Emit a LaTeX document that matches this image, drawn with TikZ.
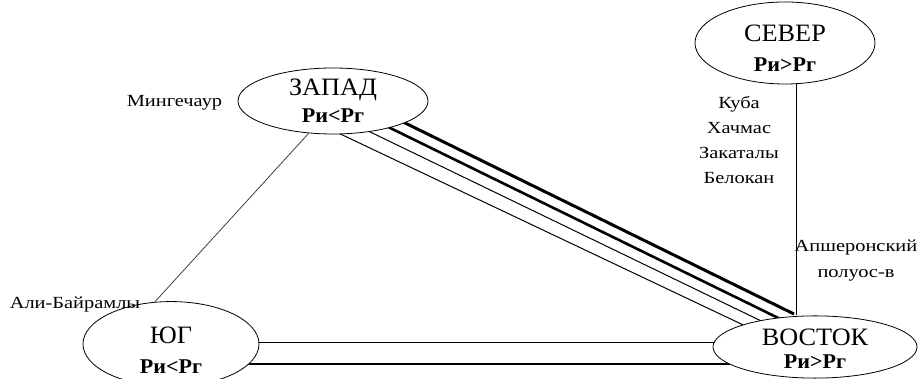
\documentclass[tikz,border=0pt]{standalone}
\usepackage{fontspec}
\setmainfont{Liberation Serif}
\newfontfamily\labfont[FakeStretch=1.2]{Liberation Serif}
\newfontfamily\regfont[FakeStretch=1.05]{Liberation Serif}
\usetikzlibrary{shapes.geometric,calc,backgrounds}
\newcommand{\regtext}[3]{{\regfont\fontsize{25}{#1}\selectfont\begin{tabular}[b]{@{}c@{}}#2\\\fontsize{21}{#1}\selectfont\bfseries #3\end{tabular}}}
\tikzset{
  region/.style={ellipse, draw, line width=0.8pt, fill=white, inner sep=0pt, text depth=0pt},
  lab/.style={font=\labfont\fontsize{17}{24.7}\selectfont, inner sep=0pt, anchor=base},
  thinlink/.style={line width=1pt},
  thicklink/.style={line width=3pt},
  hlink/.style={line width=1.1pt}
}
\begin{document}
\begin{tikzpicture}[x=1pt,y=1pt]
\useasboundingbox (0,0) rectangle (918,379);
\node[region, minimum width=190pt, minimum height=66pt, text height=44pt] (zapad) at (333,278) {\regtext{27pt}{ЗАПАД}{Ри<Рг}};
\node[region, minimum width=180pt, minimum height=72pt, text height=58pt] (sever) at (785,336) {\regtext{30pt}{СЕВЕР}{Ри>Рг}};
\node[region, minimum width=176pt, minimum height=67pt, text height=60pt] (yug) at (171,35) {\regtext{30pt}{ЮГ}{Ри<Рг}};
\node[region, minimum width=204pt, minimum height=61pt, text height=44pt] (vostok) at (815,32) {\regtext{23pt}{ВОСТОК}{Ри>Рг}};

\node[lab] (ming) at (174.5,272) {Мингечаур};
\node[lab] (kuba) at (739,270) {\begin{tabular}[t]{@{}c@{}}Куба\\Хачмас\\Закаталы\\Белокан\end{tabular}};
\node[lab, font=\labfont\fontsize{17}{26}\selectfont] (apsh) at (856,127) {\begin{tabular}[t]{@{}c@{}}Апшеронский\\полуос-в\end{tabular}};
\node[lab] (ali) at (75,70) {Али-Байрамлы};

\begin{scope}[on background layer]
  \draw[thicklink] ($(zapad.center)+(0,13.4)$) -- ($(vostok.center)+(-21,33)$);
  \draw[line width=2.6pt] ($(zapad.center)+(0,1)$) -- ($(vostok.center)+(0,11)$);
  \draw[thinlink] ($(zapad.center)+(0,-13)$) -- ($(vostok.center)+(0,0)$);
  \draw[thinlink] ($(zapad.center)+(0,-29.5)$) -- ($(vostok.center)+(0,-12)$);
  \draw[hlink] ($(yug.center)+(0,1.5)$) -- ($(vostok.center)+(0,4.5)$);
  \draw[hlink] ($(yug.center)+(0,-20)$) -- ($(vostok.center)+(0,-17)$);
\end{scope}
\draw[line width=0.8pt, black!75] (zapad.233) -- (yug.111);
\draw[hlink] (sever.286) -- (sever.286 |- vostok.north);
\end{tikzpicture}
\end{document}
